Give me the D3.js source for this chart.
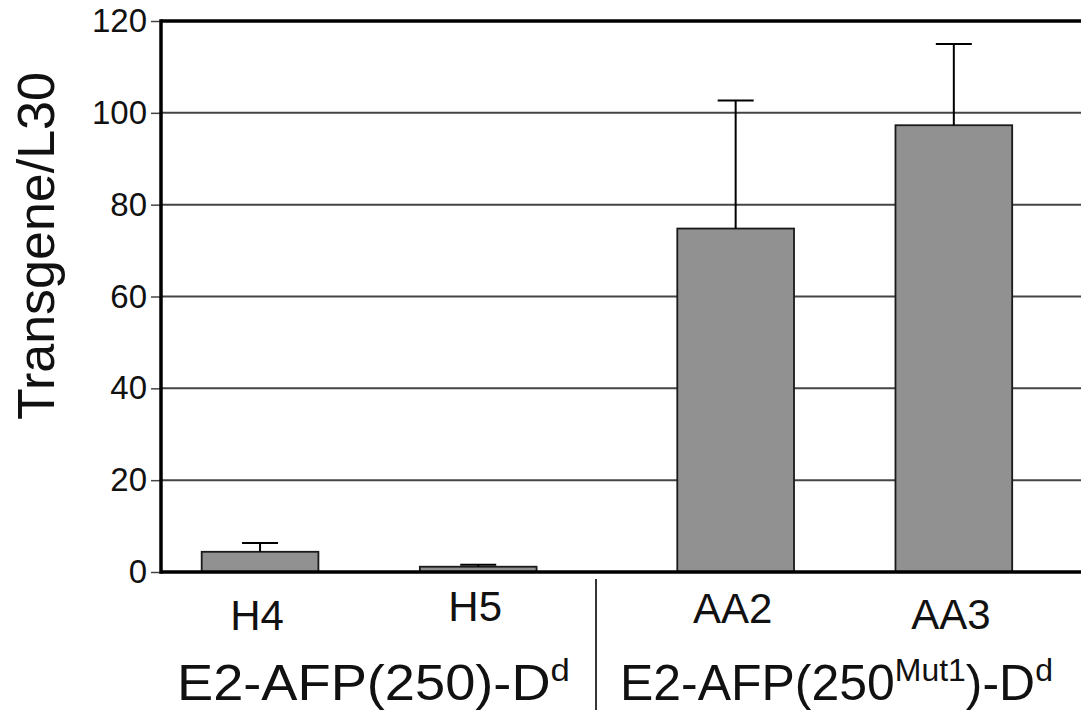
<!DOCTYPE html>
<html>
<head>
<meta charset="utf-8">
<script src="https://cdn.jsdelivr.net/npm/d3@7"></script>
<style>
  html, body { margin: 0; padding: 0; background: #fff; }
  svg { display: block; font-family: Arial, "Liberation Sans", sans-serif; }
</style>
</head>
<body>
<div id="chart"></div>
<script>
// data
const samples = ["H4", "H5", "AA2", "AA3"]
const sampleGroup = [0, 0, 1, 1]
const means = [4.4, 1.15, 74.8, 97.3]
const errors = [1.9, 0.45, 27.9, 17.7]
const yTicks = [0, 20, 40, 60, 80, 100, 120]
const yTitle = "Transgene/L30"
// group labels as pieces: [text, superscript?]
const groupLabels = [
  [["E2-AFP(250)-D", false], ["d", true]],
  [["E2-AFP(250", false], ["Mut1", true], [")-D", false], ["d", true]]
]

var width = 1081
var height = 710

// layout
var left = 161
var top_y = 21
var zero_y = 572
var groupGap = 0.18     // extra space between the two groups, in bar slots
var barW = 0.535        // bar width in slots
var capW = 36
var labelNudge = [8, -1, 1, 7]   // the sample labels don't sit on one line in the original
var supRaise = 19

var svg = d3.select("#chart").append("svg")
    .attr("width", width)
    .attr("height", height)

var slot = function(i){ return i + sampleGroup[i]*groupGap }

var x = d3.scaleLinear().domain([-0.454, 3.85]).range([left, 1100])
var y = d3.scaleLinear().domain([0, 120]).range([zero_y, top_y])

// grid lines
svg.append("g").selectAll("line")
    .data(yTicks.filter(function(d){ return d > 0 && d < 120 }))
    .enter().append("line")
    .attr("x1", left).attr("x2", width)
    .attr("y1", function(d){ return y(d) }).attr("y2", function(d){ return y(d) })
    .attr("stroke", "#444")
    .attr("stroke-width", 2)

// top frame line
svg.append("line")
    .attr("x1", left).attr("x2", width)
    .attr("y1", y(120)).attr("y2", y(120))
    .attr("stroke", "#000").attr("stroke-width", 3.5)

// y axis
var yAxis = d3.axisLeft(y).tickValues(yTicks).tickSize(10).tickPadding(4)
var ga = svg.append("g").attr("transform", "translate(" + left + ",0)").call(yAxis)
ga.select(".domain").remove()
ga.selectAll(".tick line").attr("stroke", "#444").attr("stroke-width", 1.5)
ga.selectAll(".tick text")
    .attr("font-size", 33)
    .attr("font-family", "Arial, 'Liberation Sans', sans-serif")
    .attr("fill", "#111")

// bars
svg.append("g").selectAll("rect")
    .data(means)
    .enter().append("rect")
    .attr("x", function(d,i){ return x(slot(i) - barW/2) })
    .attr("width", x(barW) - x(0))
    .attr("y", function(d){ return y(d) })
    .attr("height", function(d){ return y(0) - y(d) })
    .attr("fill", "#919191")
    .attr("stroke", "#1a1a1a")
    .attr("stroke-width", 1.8)

// error bars (upper only)
var eb = svg.append("g").selectAll("g")
    .data(means)
    .enter().append("g")
eb.append("line")
    .attr("x1", function(d,i){ return x(slot(i)) })
    .attr("x2", function(d,i){ return x(slot(i)) })
    .attr("y1", function(d){ return y(d) })
    .attr("y2", function(d,i){ return y(d + errors[i]) })
    .attr("stroke", "#000").attr("stroke-width", 2)
eb.append("line")
    .attr("x1", function(d,i){ return x(slot(i)) - capW/2 })
    .attr("x2", function(d,i){ return x(slot(i)) + capW/2 })
    .attr("y1", function(d,i){ return y(d + errors[i]) })
    .attr("y2", function(d,i){ return y(d + errors[i]) })
    .attr("stroke", "#000").attr("stroke-width", 2)

// axis lines drawn last so they sit over the bars
svg.append("line")
    .attr("x1", left).attr("x2", width)
    .attr("y1", y(0)).attr("y2", y(0))
    .attr("stroke", "#000").attr("stroke-width", 3.5)
svg.append("line")
    .attr("x1", left).attr("x2", left)
    .attr("y1", y(120) - 1.7).attr("y2", y(0) + 1.7)
    .attr("stroke", "#000").attr("stroke-width", 3.5)

// sample labels
svg.append("g").selectAll("text")
    .data(samples)
    .enter().append("text")
    .attr("x", function(d,i){ return x(slot(i)) - 3 })
    .attr("y", function(d,i){ return 622 + labelNudge[i] })
    .attr("text-anchor", "middle")
    .attr("font-size", 42)
    .attr("fill", "#111")
    .text(function(d){ return d })

// separator between the groups
var sepX = x(1.54)
svg.append("line")
    .attr("x1", sepX).attr("x2", sepX)
    .attr("y1", 579).attr("y2", height)
    .attr("stroke", "#333").attr("stroke-width", 2)

// group labels; the original type is a little stretched, so fit each one to its span
var groupSpan = [[177, 570], [620, 1053]]
groupLabels.forEach(function(parts, g){
  var gg = svg.append("g")
  var t = gg.append("text")
      .attr("x", 0).attr("y", 0)
      .attr("font-size", 50)
      .attr("fill", "#111")
  var raised = false
  parts.forEach(function(p){
    var dy = 0
    if (p[1] && !raised) dy = -supRaise
    if (!p[1] && raised) dy = supRaise
    raised = p[1]
    t.append("tspan")
      .attr("dy", dy)
      .attr("font-size", p[1] ? 32 : 50)
      .text(p[0])
  })
  var w = t.node().getComputedTextLength()
  var s = (groupSpan[g][1] - groupSpan[g][0]) / w
  gg.attr("transform", "translate(" + groupSpan[g][0] + ",700) scale(" + s + ",1)")
})

// y title
svg.append("text")
    .attr("transform", "translate(54,246) rotate(-90)")
    .attr("text-anchor", "middle")
    .attr("font-size", 52)
    .attr("fill", "#111")
    .text(yTitle)
</script>
</body>
</html>
